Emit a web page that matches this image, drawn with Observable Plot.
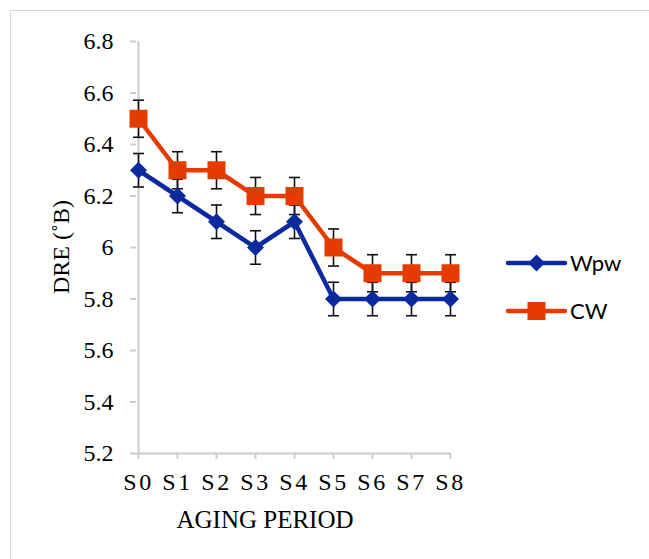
<!DOCTYPE html>
<html>
<head>
<meta charset="utf-8">
<script src="https://cdn.jsdelivr.net/npm/d3@7"></script>
<script src="https://cdn.jsdelivr.net/npm/@observablehq/plot@0.6"></script>
<style>
  html, body { margin: 0; padding: 0; background: #fff; overflow: hidden; }
  #wrap { position: relative; width: 649px; height: 559px; overflow: hidden; }
  #frame { position: absolute; left: 10px; top: 10px; width: 700px; height: 620px; border: 1.5px solid #d6d6d6; box-sizing: border-box; }
  #chart { position: absolute; left: 0; top: 0; }
  #chart svg text { font-family: "Liberation Serif", "Times New Roman", serif !important; }
  #ytitle { position: absolute; left: 61px; top: 247px; transform: translate(-50%, -50%) rotate(-90deg);
            font: 24px "Liberation Serif", "Times New Roman", serif; line-height: 1; white-space: nowrap; color: black; }
  #legend { position: absolute; left: 0; top: 0; width: 649px; height: 559px; pointer-events: none; }
  g[aria-label="x-axis tick label"] text { letter-spacing: 2.5px; }
</style>
</head>
<body>
<div id="wrap">
  <div id="frame"></div>
  <div id="chart"></div>
  <div id="ytitle"></div>
  <svg id="legend" width="649" height="559"></svg>
</div>
<script>
// ---- data ----
const categories = ["S0", "S1", "S2", "S3", "S4", "S5", "S6", "S7", "S8"];
const seriesNames = ["Wpw", "CW"];
const wpwValues = [6.3, 6.2, 6.1, 6.0, 6.1, 5.8, 5.8, 5.8, 5.8];
const cwValues  = [6.5, 6.3, 6.3, 6.2, 6.2, 6.0, 5.9, 5.9, 5.9];
const wpwErrors = [0.065, 0.065, 0.065, 0.065, 0.065, 0.065, 0.065, 0.065, 0.065];
const cwErrors  = [0.072, 0.072, 0.072, 0.072, 0.072, 0.072, 0.072, 0.072, 0.072];
const yTicks = [5.2, 5.4, 5.6, 5.8, 6.0, 6.2, 6.4, 6.6, 6.8];
const yTitle = "DRE (˚B)";
const xTitle = "AGING PERIOD";
const seriesColors = ["#0a2a9e", "#e43c00"];

// ---- rows built from the arrays ----
const rows = [];
categories.forEach((c, i) => {
  rows.push({series: seriesNames[0], cat: c, value: wpwValues[i], err: wpwErrors[i]});
  rows.push({series: seriesNames[1], cat: c, value: cwValues[i], err: cwErrors[i]});
});

// custom symbols (r = half extent)
const diamond = {draw(ctx, size) { const r = Math.sqrt(size / Math.PI); ctx.moveTo(0, -r); ctx.lineTo(r, 0); ctx.lineTo(0, r); ctx.lineTo(-r, 0); ctx.closePath(); }};
const square = {draw(ctx, size) { const r = Math.sqrt(size / Math.PI); ctx.rect(-r, -r, 2 * r, 2 * r); }};
const cap = {draw(ctx, size) { const r = Math.sqrt(size / Math.PI); ctx.moveTo(-r, 0); ctx.lineTo(r, 0); }};

const axisGray = "#cccccc";
const serif = "Liberation Serif, Times New Roman, serif";

const chart = Plot.plot({
  width: 649,
  height: 559,
  marginLeft: 136,
  marginRight: 198,
  marginTop: 41,
  marginBottom: 106,
  style: {fontFamily: serif, fontSize: "24px", color: "black", background: "transparent"},
  x: {type: "point", domain: categories, padding: 0, label: null},
  y: {domain: [5.2, 6.8], label: null},
  color: {domain: seriesNames, range: seriesColors},
  marks: [
    Plot.ruleX([categories[0]], {stroke: axisGray, strokeWidth: 2}),
    Plot.ruleY([yTicks[0]], {stroke: axisGray, strokeWidth: 2}),
    Plot.axisY({ticks: yTicks, tickSize: 6, tickPadding: 17, stroke: axisGray, strokeWidth: 2, fill: "black", fontSize: 24, fontFamily: serif,
      tickFormat: d => String(+d.toFixed(1)), label: null}),
    Plot.axisX({tickSize: 6, tickPadding: 13, stroke: axisGray, strokeWidth: 2, fill: "black", fontSize: 24, fontFamily: serif, label: null}),
    Plot.text([xTitle], {frameAnchor: "bottom", textAnchor: "middle", lineAnchor: "bottom", dx: -29, dy: 74, fontSize: 25, fill: "black"}),
    // error bars
    Plot.ruleX(rows, {x: "cat", y1: d => d.value - d.err, y2: d => d.value + d.err, stroke: "#111", strokeWidth: 1.6}),
    Plot.dot(rows, {x: "cat", y: d => d.value + d.err, symbol: cap, r: 5.5, stroke: "#111", strokeWidth: 1.6, fill: "none"}),
    Plot.dot(rows, {x: "cat", y: d => d.value - d.err, symbol: cap, r: 5.5, stroke: "#111", strokeWidth: 1.6, fill: "none"}),
    // lines
    Plot.line(rows, {x: "cat", y: "value", z: "series", stroke: "series", strokeWidth: 4.5, strokeLinejoin: "round"}),
    // markers
    Plot.dot(rows.filter(d => d.series === seriesNames[0]), {x: "cat", y: "value", symbol: diamond, r: 8.5, fill: "series", stroke: "none"}),
    Plot.dot(rows.filter(d => d.series === seriesNames[1]), {x: "cat", y: "value", symbol: square, r: 9, fill: "series", stroke: "none"})
  ]
});
document.getElementById("chart").appendChild(chart);
document.getElementById("ytitle").textContent = yTitle;

// ---- legend (right side) ----
const legend = d3.select("#legend");
const legendY = [263, 311];
const legendSymbols = [diamond, square];
const legendR = [8.5, 9];
seriesNames.forEach((name, i) => {
  const g = legend.append("g").attr("transform", `translate(0,${legendY[i]})`);
  g.append("line").attr("x1", 508).attr("x2", 565).attr("y1", 0).attr("y2", 0)
    .attr("stroke", seriesColors[i]).attr("stroke-width", 4.5).attr("stroke-linecap", "round");
  const path = d3.path();
  legendSymbols[i].draw(path, Math.PI * legendR[i] * legendR[i]);
  g.append("path").attr("d", path.toString()).attr("transform", "translate(536.5,0)").attr("fill", seriesColors[i]);
  g.append("text").attr("x", 570).attr("y", 0).attr("dy", "0.36em")
    .attr("font-family", "Lato, 'Open Sans', sans-serif").attr("font-size", 22).attr("fill", "black").text(name);
});
</script>
</body>
</html>
